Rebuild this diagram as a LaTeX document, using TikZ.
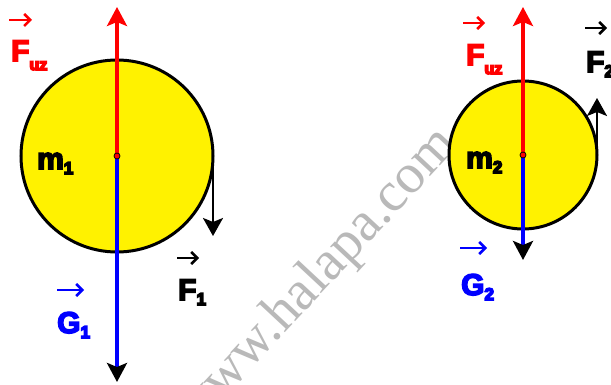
\documentclass[tikz,border=0pt]{standalone}
\usepackage{fontspec}
\newfontfamily\heavy{Liberation Sans Bold}
\newfontfamily\wmfont{Liberation Serif}
\usetikzlibrary{arrows.meta}
\definecolor{wmgray}{RGB}{185,185,185}
\newcommand\sbs[1]{\raisebox{-5pt}{\fontsize{17}{17}\selectfont #1}}
\newcommand\sbuz{\raisebox{-9pt}{\fontsize{16}{16}\selectfont uz}}
\newcommand\fat[1]{\special{pdf:literal direct 2 Tr 1.6 w}#1\special{pdf:literal direct 0 Tr 1 w}}
\begin{document}
\begin{tikzpicture}[x=1pt,y=-1pt,
  ball/.style={circle,draw=black,fill=yellow,line width=3pt,inner sep=0pt,outer sep=0pt},
  upforce/.style={red,line width=3.5pt,-{Stealth[length=19pt,width=20pt,inset=4pt]}},
  downforce/.style={blue,line width=3.5pt,-{Stealth[length=19pt,width=20pt,inset=4pt,color=black]}},
  sideforce/.style={black,line width=2.5pt,-{Stealth[length=18pt,width=20pt,inset=4pt]}},
  vec/.style={line width=2.5pt,-{Straight Barb[length=6pt,width=12pt]}},
  lab/.style={inner sep=0pt,anchor=base west,font=\heavy\fontsize{30}{30}\selectfont},
  cdot/.style={circle,fill=red,draw=black,line width=0.8pt,minimum size=6pt,inner sep=0pt},
  wm/.style={wmgray,font=\wmfont\fontsize{56}{56}\selectfont,inner sep=0pt}]
\path[use as bounding box,fill=white] (0,0) rectangle (611,385);
% watermark
\node[wm,rotate=47,anchor=base] (wm) at (327,288) {www.halapa.com};
% left ball
\node[ball,minimum size=192pt] (c1) at (117,156) {};
\coordinate (t1) at (117,7);
\coordinate (b1) at (117,382);
\coordinate (e1) at (213,236);
\draw[upforce] (c1.center) -- (t1);
\draw[downforce] (c1.center) -- (b1);
\draw[sideforce] (c1.east) -- (e1);
\node[cdot] (d1) at (c1.center) {};
% right ball
\node[ball,minimum size=148pt] (c2) at (523,155) {};
\coordinate (t2) at (523,7);
\coordinate (b2) at (523,260);
\coordinate (e2) at (597,98);
\draw[upforce] (c2.center) -- (t2);
\draw[downforce] (c2.center) -- (b2);
\draw[sideforce] (c2.east) -- (e2);
\node[cdot] (d2) at (c2.center) {};
% labels left
\node[lab,red] (fuz1) at (11,61) {\fat{F\sbuz}};
\draw[vec,red] (9,20) -- (32,20);
\node[lab] (m1) at (37,169) {\fat{m\sbs{1}}};
\node[lab] (f1) at (178,300) {\fat{F\sbs{1}}};
\draw[vec] (177,258) -- (199,258);
\node[lab,blue] (g1) at (57,333) {\fat{G\sbs{1}}};
\draw[vec,blue] (57,290) -- (84,290);
% labels right
\node[lab,red] (fuz2) at (466,65) {\fat{F\sbuz}};
\draw[vec,red] (463,23) -- (485,23);
\node[lab] (m2) at (466,168) {\fat{m\sbs{2}}};
\node[lab] (f2) at (586,72) {\fat{F\sbs{2}}};
\draw[vec] (585,28) -- (607,28);
\node[lab,blue] (g2) at (461,295) {\fat{G\sbs{2}}};
\draw[vec,blue] (460,248) -- (487,248);
\end{tikzpicture}
\end{document}
